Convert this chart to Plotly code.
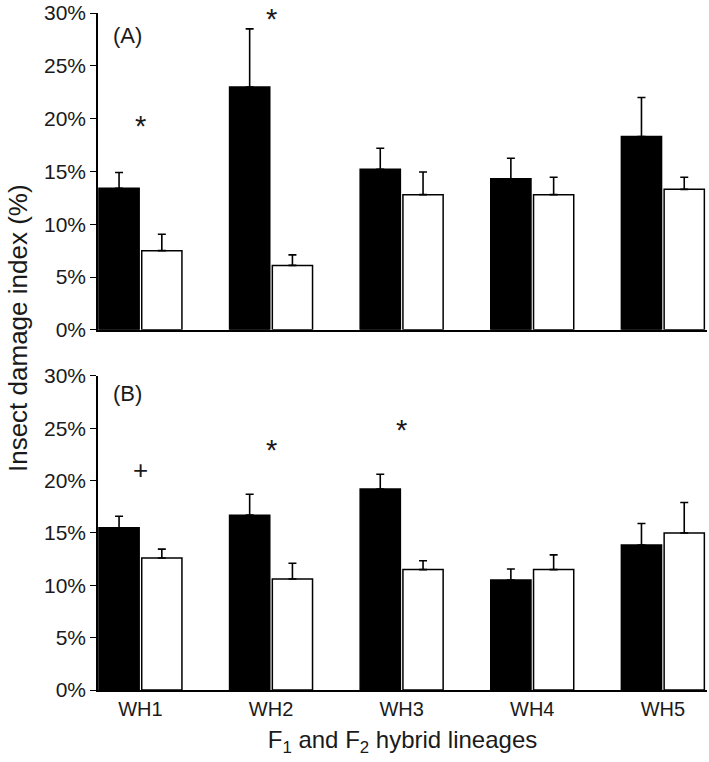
import plotly.graph_objects as go
from plotly.subplots import make_subplots

categories = ["WH1", "WH2", "WH3", "WH4", "WH5"]

# Panel A (values in %)
a_black = [13.4, 23.0, 15.2, 14.3, 18.3]
a_black_se = [1.5, 5.5, 2.0, 1.95, 3.7]
a_white = [7.5, 6.1, 12.8, 12.8, 13.3]
a_white_se = [1.55, 1.0, 2.15, 1.65, 1.15]

# Panel B (values in %)
b_black = [15.5, 16.7, 19.2, 10.5, 13.85]
b_black_se = [1.1, 2.0, 1.4, 1.05, 2.05]
b_white = [12.6, 10.6, 11.5, 11.5, 15.0]
b_white_se = [0.85, 1.5, 0.85, 1.4, 2.9]

y_ticks = [0, 5, 10, 15, 20, 25, 30]
y_tick_labels = ["0%", "5%", "10%", "15%", "20%", "25%", "30%"]

# significance marks
marks_cat = ["WH1", "WH2", "WH1", "WH2", "WH3"]
marks_y = [19.3, 29.4, 21.0, 22.9, 24.8]
marks_txt = ["*", "*", "+", "*", "*"]
marks_panel = [1, 1, 2, 2, 2]

FONT = "Liberation Sans"
TXT = "#1a1a1a"

fig = make_subplots(rows=2, cols=1, shared_xaxes=False, vertical_spacing=0.068)

def add_bars(row, black, black_se, white, white_se):
    fig.add_trace(go.Bar(
        x=categories, y=black,
        marker=dict(color="black", line=dict(color="black", width=1.5)),
        error_y=dict(type="data", symmetric=False, array=black_se,
                     arrayminus=[0] * len(black_se), color="black",
                     thickness=1.6, width=4),
        showlegend=False), row=row, col=1)
    fig.add_trace(go.Bar(
        x=categories, y=white,
        marker=dict(color="white", line=dict(color="black", width=1.5)),
        error_y=dict(type="data", symmetric=False, array=white_se,
                     arrayminus=[0] * len(white_se), color="black",
                     thickness=1.6, width=4),
        showlegend=False), row=row, col=1)

add_bars(1, a_black, a_black_se, a_white, a_white_se)
add_bars(2, b_black, b_black_se, b_white, b_white_se)

xrange = [-0.325, 4.338]

def yaxis_style(domain):
    return dict(domain=domain, range=[0, 30], tickmode="array",
                tickvals=y_ticks, ticktext=y_tick_labels,
                showline=True, linecolor="black", linewidth=1.6,
                ticks="outside", ticklen=6, tickwidth=1.3, tickcolor="black",
                showgrid=False, zeroline=False,
                tickfont=dict(family=FONT, size=21, color=TXT))

fig.update_layout(
    width=709, height=762,
    margin=dict(l=98, r=2, t=13, b=72),
    plot_bgcolor="white", paper_bgcolor="white",
    barmode="group", bargap=0.345, bargroupgap=0.06,
    font=dict(family=FONT, color=TXT, size=20),
    xaxis=dict(range=xrange, showticklabels=False, showline=True,
               linecolor="black", linewidth=1.6, ticks="", showgrid=False,
               zeroline=False),
    xaxis2=dict(range=xrange, showline=True, linecolor="black", linewidth=1.6,
                ticks="", showgrid=False, zeroline=False,
                tickfont=dict(family=FONT, size=20, color=TXT),
                title=dict(text="F<sub>1</sub> and F<sub>2</sub> hybrid lineages",
                           font=dict(family=FONT, size=24, color=TXT),
                           standoff=12)),
    yaxis=yaxis_style([0.532, 1.0]),
    yaxis2=yaxis_style([0.0, 0.464]),
)

for p, c, yv, t in zip(marks_panel, marks_cat, marks_y, marks_txt):
    fig.add_annotation(x=c, y=yv, text=t, showarrow=False,
                       xref="x" if p == 1 else "x2",
                       yref="y" if p == 1 else "y2",
                       font=dict(family=FONT, size=29 if t == "*" else 26, color=TXT))

fig.add_annotation(x=0.049, y=0.9675, xref="paper", yref="paper", text="(A)",
                   showarrow=False, xanchor="center", yanchor="middle",
                   font=dict(family=FONT, size=22, color=TXT))
fig.add_annotation(x=0.049, y=0.4387, xref="paper", yref="paper", text="(B)",
                   showarrow=False, xanchor="center", yanchor="middle",
                   font=dict(family=FONT, size=22, color=TXT))

fig.add_annotation(x=-0.131, y=0.535, xref="paper", yref="paper",
                   text="Insect damage index (%)", textangle=-90,
                   showarrow=False, xanchor="center", yanchor="middle",
                   font=dict(family=FONT, size=26, color=TXT))

# remove the default page margin so the figure sits at the window origin
fig.write_html("out.html", config={"displayModeBar": False},
               post_script="document.body.style.margin='0';")
